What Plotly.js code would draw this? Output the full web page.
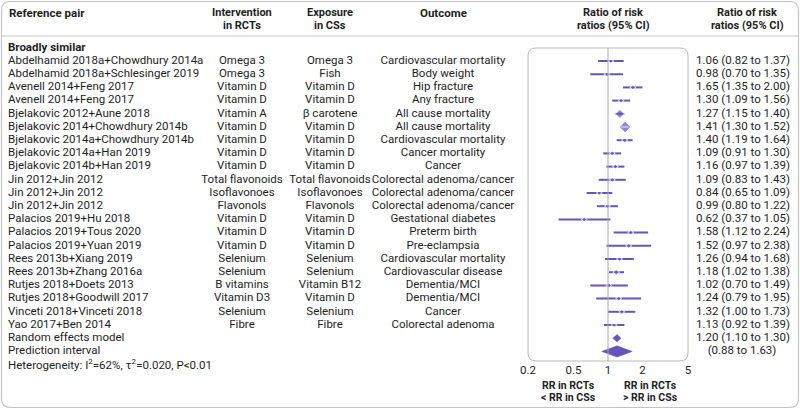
<!DOCTYPE html>
<html><head><meta charset="utf-8">
<script src="https://cdn.plot.ly/plotly-3.0.1.min.js"></script>
<style>html,body{margin:0;padding:0;background:#fff;}#chart{width:800px;height:409px;}</style>
</head><body><div id="chart"></div>
<script>
// ---------- DATA ----------
const studies = [
  "Abdelhamid 2018a+Chowdhury 2014a","Abdelhamid 2018a+Schlesinger 2019","Avenell 2014+Feng 2017","Avenell 2014+Feng 2017",
  "Bjelakovic 2012+Aune 2018","Bjelakovic 2014+Chowdhury 2014b","Bjelakovic 2014a+Chowdhury 2014b","Bjelakovic 2014a+Han 2019",
  "Bjelakovic 2014b+Han 2019","Jin 2012+Jin 2012","Jin 2012+Jin 2012","Jin 2012+Jin 2012","Palacios 2019+Hu 2018",
  "Palacios 2019+Tous 2020","Palacios 2019+Yuan 2019","Rees 2013b+Xiang 2019","Rees 2013b+Zhang 2016a",
  "Rutjes 2018+Doets 2013","Rutjes 2018+Goodwill 2017","Vinceti 2018+Vinceti 2018","Yao 2017+Ben 2014"
];
const interventions = ["Omega 3","Omega 3","Vitamin D","Vitamin D","Vitamin A","Vitamin D","Vitamin D","Vitamin D","Vitamin D",
  "Total flavonoids","Isoflavonoes","Flavonols","Vitamin D","Vitamin D","Vitamin D","Selenium","Selenium","B vitamins","Vitamin D3","Selenium","Fibre"];
const exposures = ["Omega 3","Fish","Vitamin D","Vitamin D","β carotene","Vitamin D","Vitamin D","Vitamin D","Vitamin D",
  "Total flavonoids","Isoflavonoes","Flavonols","Vitamin D","Vitamin D","Vitamin D","Selenium","Selenium","Vitamin B12","Vitamin D","Selenium","Fibre"];
const outcomes = ["Cardiovascular mortality","Body weight","Hip fracture","Any fracture","All cause mortality","All cause mortality",
  "Cardiovascular mortality","Cancer mortality","Cancer","Colorectal adenoma/cancer","Colorectal adenoma/cancer","Colorectal adenoma/cancer",
  "Gestational diabetes","Preterm birth","Pre-eclampsia","Cardiovascular mortality","Cardiovascular disease","Dementia/MCI","Dementia/MCI","Cancer","Colorectal adenoma"];
const estimates = [1.06,0.98,1.65,1.30,1.27,1.41,1.40,1.09,1.16,1.09,0.84,0.99,0.62,1.58,1.52,1.26,1.18,1.02,1.24,1.32,1.13];
const lower     = [0.82,0.70,1.35,1.09,1.15,1.30,1.19,0.91,0.97,0.83,0.65,0.80,0.37,1.12,0.97,0.94,1.02,0.70,0.79,1.00,0.92];
const upper     = [1.37,1.35,2.00,1.56,1.40,1.52,1.64,1.30,1.39,1.43,1.09,1.22,1.05,2.24,2.38,1.68,1.38,1.49,1.95,1.73,1.39];
const randomEffect = [1.20, 1.10, 1.30];   // estimate, lower, upper
const predictionInterval = [0.88, 1.63];
const heterogeneityText = "Heterogeneity: I<sup>2</sup>=62%, τ<sup>2</sup>=0.020, P&lt;0.01";
const tickValues = [0.2, 0.5, 1, 2, 5];
const tickLabels = ["0.2", "0.5", "1", "2", "5"];

// ---------- STYLE ----------
const W = 800, H = 409;
const PURPLE = "#6753bd";
const TXT = "#1e1e1e";
const FONT = "Roboto, Open Sans, sans-serif";
const FS = 11.5;
const rowTop = 61, rowStep = 13.2;
const plotL = 528, plotR = 688, plotT = 48, plotB = 361;
const xRange = [Math.log10(0.2), Math.log10(5)];
const pxPerDecade = (plotR - plotL) / (xRange[1] - xRange[0]);

const n = studies.length;
const rows = studies.map((_, i) => i);
const rowRandom = n, rowPred = n + 1, rowHet = n + 2.13;

const ciX = [], ciY = [], sizes = [], innerX = [], innerY = [];
for (let i = 0; i < n; i++) {
  ciX.push(lower[i], upper[i], null); ciY.push(i, i, null);
  const se = (Math.log(upper[i]) - Math.log(lower[i])) / (2 * 1.96);
  const s = Math.max(4.2, 0.37 / se);
  sizes.push(s);
  const half = s * 1.3 / 2;
  const lPx = (Math.log10(estimates[i]) - Math.log10(lower[i])) * pxPerDecade;
  const rPx = (Math.log10(upper[i]) - Math.log10(estimates[i])) * pxPerDecade;
  if (lPx < half && rPx < half) { innerX.push(lower[i], upper[i], null); innerY.push(i, i, null); }
}

const dRand = 3.6 / rowStep, dPred = 5.6 / rowStep;
const fmt = v => v.toFixed(2);
const font = {family: FONT, size: FS, color: TXT};
const hfont = {family: FONT, size: 11, color: TXT};
function textCol(xpos, ys, texts, pos) {
  return {x: ys.map(() => xpos), y: ys, text: texts, type: "scatter", mode: "text", textposition: pos,
    textfont: font, xaxis: "x2", yaxis: "y", hoverinfo: "skip", showlegend: false, cliponaxis: false};
}
const ciTexts = rows.map(i => fmt(estimates[i]) + " (" + fmt(lower[i]) + " to " + fmt(upper[i]) + ")");

const traces = [
  {x: ciX, y: ciY, type: "scatter", mode: "lines", line: {color: PURPLE, width: 2}, hoverinfo: "skip", showlegend: false},
  {x: estimates, y: rows, type: "scatter", mode: "markers",
   marker: {symbol: "diamond", color: PURPLE, size: sizes, line: {color: "#ffffff", width: 1.1}},
   hoverinfo: "skip", showlegend: false},
  {x: innerX, y: innerY, type: "scatter", mode: "lines", line: {color: "#ffffff", width: 1.2}, hoverinfo: "skip", showlegend: false},
  {x: [randomEffect[1], randomEffect[0], randomEffect[2], randomEffect[0], randomEffect[1]],
   y: [rowRandom, rowRandom - dRand, rowRandom, rowRandom + dRand, rowRandom],
   type: "scatter", mode: "lines", fill: "toself", fillcolor: PURPLE, line: {color: PURPLE, width: 0.5}, hoverinfo: "skip", showlegend: false},
  {x: [predictionInterval[0], randomEffect[0], predictionInterval[1], randomEffect[0], predictionInterval[0]],
   y: [rowPred, rowPred - dPred, rowPred, rowPred + dPred, rowPred],
   type: "scatter", mode: "lines", fill: "toself", fillcolor: PURPLE, line: {color: PURPLE, width: 0.5}, hoverinfo: "skip", showlegend: false},
  textCol(8, [-1].concat(rows, [rowRandom, rowPred, rowHet]),
    ["<b>Broadly similar</b>"].concat(studies, ["Random effects model", "Prediction interval", heterogeneityText]), "middle right"),
  textCol(242, rows, interventions, "middle center"),
  textCol(330, rows, exposures, "middle center"),
  textCol(443, rows, outcomes, "middle center"),
  textCol(696, rows.concat([rowRandom]), ciTexts.concat([fmt(randomEffect[0]) + " (" + fmt(randomEffect[1]) + " to " + fmt(randomEffect[2]) + ")"]), "middle right"),
  textCol(742, [rowPred], ["(" + fmt(predictionInterval[0]) + " to " + fmt(predictionInterval[1]) + ")"], "middle center")
];

const px = v => v / W;
const py = v => 1 - v / H;
const ann = [];
function addA(text, x, y, anchor, f) {
  ann.push({text: "<b>" + text + "</b>", x: px(x), xref: "paper", y: py(y), yref: "paper",
    xanchor: anchor, yanchor: "middle", showarrow: false, borderpad: 0, font: f || hfont});
}
addA("Reference pair", 8, 13, "left", font);
addA("Intervention", 242, 12.5, "center");
addA("in RCTs", 242, 25.5, "center");
addA("Exposure", 330, 12.5, "center");
addA("in CSs", 330, 25.5, "center");
addA("Outcome", 443, 13, "center", font);
addA("Ratio of risk", 613, 12.5, "center");
addA("ratios (95% CI)", 613, 25.5, "center");
addA("Ratio of risk", 747, 12.5, "center");
addA("ratios (95% CI)", 747, 25.5, "center");
const rrFont = {family: FONT, size: 10.5, color: TXT};
addA("RR in RCTs", 568, 385, "center", rrFont);
addA("&lt; RR in CSs", 568, 397.5, "center", rrFont);
addA("RR in RCTs", 650, 385, "center", rrFont);
addA("&gt; RR in CSs", 650, 397.5, "center", rrFont);

function roundRect(x0, y0, x1, y1, r) {
  const X = v => px(v), Y = v => py(v);
  return `M ${X(x0 + r)},${Y(y0)} L ${X(x1 - r)},${Y(y0)} Q ${X(x1)},${Y(y0)} ${X(x1)},${Y(y0 + r)} ` +
    `L ${X(x1)},${Y(y1 - r)} Q ${X(x1)},${Y(y1)} ${X(x1 - r)},${Y(y1)} L ${X(x0 + r)},${Y(y1)} ` +
    `Q ${X(x0)},${Y(y1)} ${X(x0)},${Y(y1 - r)} L ${X(x0)},${Y(y0 + r)} Q ${X(x0)},${Y(y0)} ${X(x0 + r)},${Y(y0)} Z`;
}

const shapes = [
  {type: "path", xref: "paper", yref: "paper", path: roundRect(1.5, 1.5, 798.5, 407.5, 9), line: {color: "#c4c4c4", width: 1.2}},
  {type: "line", xref: "paper", yref: "paper", x0: px(1.5), x1: px(798.5), y0: py(36), y1: py(36), line: {color: "#c8c8c8", width: 1.2}},
  {type: "path", xref: "paper", yref: "paper", path: roundRect(plotL, plotT, plotR, plotB, 8), line: {color: "#b8b8b8", width: 1}},
  {type: "line", xref: "x", yref: "paper", x0: 1, x1: 1, y0: py(plotT), y1: py(plotB), line: {color: "#a8a8a8", width: 1}}
];

const layout = {
  width: W, height: H, margin: {l: 0, r: 0, t: 0, b: 0},
  paper_bgcolor: "#ffffff", plot_bgcolor: "rgba(0,0,0,0)",
  showlegend: false,
  xaxis: {type: "log", range: xRange, domain: [px(plotL), px(plotR)], anchor: "free", position: py(plotB),
    tickvals: tickValues, ticktext: tickLabels, ticks: "", showgrid: false, zeroline: false, showline: false,
    tickfont: font, fixedrange: true},
  xaxis2: {range: [0, W], domain: [0, 1], anchor: "y", visible: false, fixedrange: true},
  yaxis: {range: [(H - rowTop) / rowStep, -rowTop / rowStep], domain: [0, 1], visible: false, fixedrange: true},
  annotations: ann, shapes: shapes
};
Plotly.newPlot("chart", traces, layout, {staticPlot: true, displayModeBar: false});
</script></body></html>
